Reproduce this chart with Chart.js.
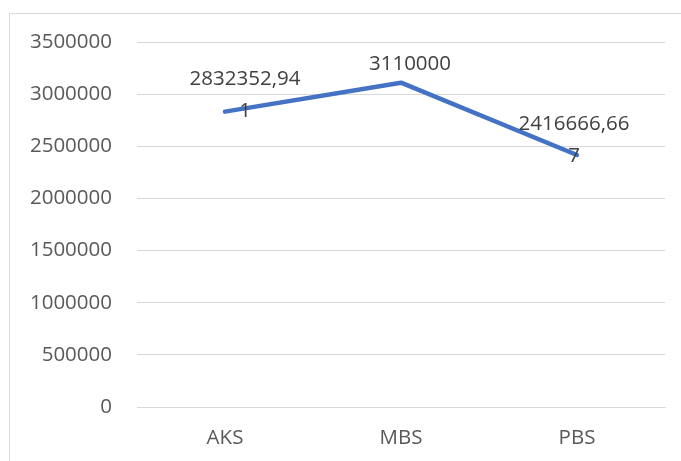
<!DOCTYPE html>
<html>
<head>
<meta charset="utf-8">
<script src="https://cdn.jsdelivr.net/npm/chart.js@4"></script>
<style>
  html, body { margin: 0; padding: 0; background: #fff; }
  #wrap { width: 681px; height: 461px; position: relative; }
</style>
</head>
<body>
<div id="wrap"><canvas id="lineChart" width="681" height="461"></canvas></div>
<script>
const categories = ['AKS', 'MBS', 'PBS'];
const values = [2832352.941, 3110000, 2416666.667];
const yTicks = [0, 500000, 1000000, 1500000, 2000000, 2500000, 3000000, 3500000];

// label placement, relative to each point (first line centre)
const labelShift = [{ dx: 20, dy: -32 }, { dx: 9, dy: -19 }, { dx: -3, dy: -31 }];

const FONT = '"Open Sans", sans-serif';

function labelLines(v) {
  // excel-like general format with comma decimal, wrapped at 10 chars
  let s = Number.isInteger(v) ? String(v) : v.toFixed(3).replace('.', ',');
  const out = [];
  while (s.length > 10) { out.push(s.slice(0, 10)); s = s.slice(10); }
  out.push(s);
  return out;
}

const frame = {
  id: 'frame',
  beforeDraw(chart) {
    const ctx = chart.ctx;
    ctx.save();
    ctx.strokeStyle = '#d9d9d9';
    ctx.lineWidth = 1;
    ctx.strokeRect(9.5, 13.5, chart.width + 20, chart.height + 20);
    ctx.restore();
  }
};

const valueLabels = {
  id: 'valueLabels',
  afterDatasetsDraw(chart) {
    const ctx = chart.ctx;
    const meta = chart.getDatasetMeta(0);
    ctx.save();
    ctx.font = '20.5px ' + FONT;
    ctx.fillStyle = '#404040';
    ctx.textAlign = 'center';
    ctx.textBaseline = 'middle';
    meta.data.forEach((pt, i) => {
      const lines = labelLines(values[i]);
      const sh = labelShift[i];
      lines.forEach((t, j) => {
        ctx.fillText(t, pt.x + sh.dx, pt.y + sh.dy + j * 32);
      });
    });
    ctx.restore();
  }
};

const ctx = document.getElementById('lineChart').getContext('2d');
new Chart(ctx, {
  type: 'line',
  data: {
    labels: categories,
    datasets: [{
      data: values,
      borderColor: '#4472C4',
      borderWidth: 4.5,
      borderCapStyle: 'round',
      borderJoinStyle: 'round',
      pointRadius: 0,
      tension: 0,
      fill: false
    }]
  },
  options: {
    responsive: false,
    animation: false,
    layout: { padding: { left: 0, top: 42, right: 16, bottom: 0 } },
    plugins: {
      legend: { display: false },
      tooltip: { enabled: false }
    },
    scales: {
      x: {
        offset: true,
        grid: { display: false, drawTicks: false },
        border: { display: true, color: '#d9d9d9', width: 1 },
        ticks: { color: '#595959', font: { family: FONT, size: 20.5 }, padding: 19 },
        afterFit: s => { s.height = 54; }
      },
      y: {
        min: 0,
        max: 3500000,
        afterBuildTicks: s => { s.ticks = yTicks.map(v => ({ value: v })); },
        grid: { color: '#d9d9d9', lineWidth: 1, drawTicks: false },
        border: { display: false },
        ticks: {
          color: '#595959',
          font: { family: FONT, size: 20.5 },
          padding: 25,
          callback: v => String(v)
        },
        afterFit: s => { s.width = 137; }
      }
    }
  },
  plugins: [frame, valueLabels]
});
</script>
</body>
</html>
